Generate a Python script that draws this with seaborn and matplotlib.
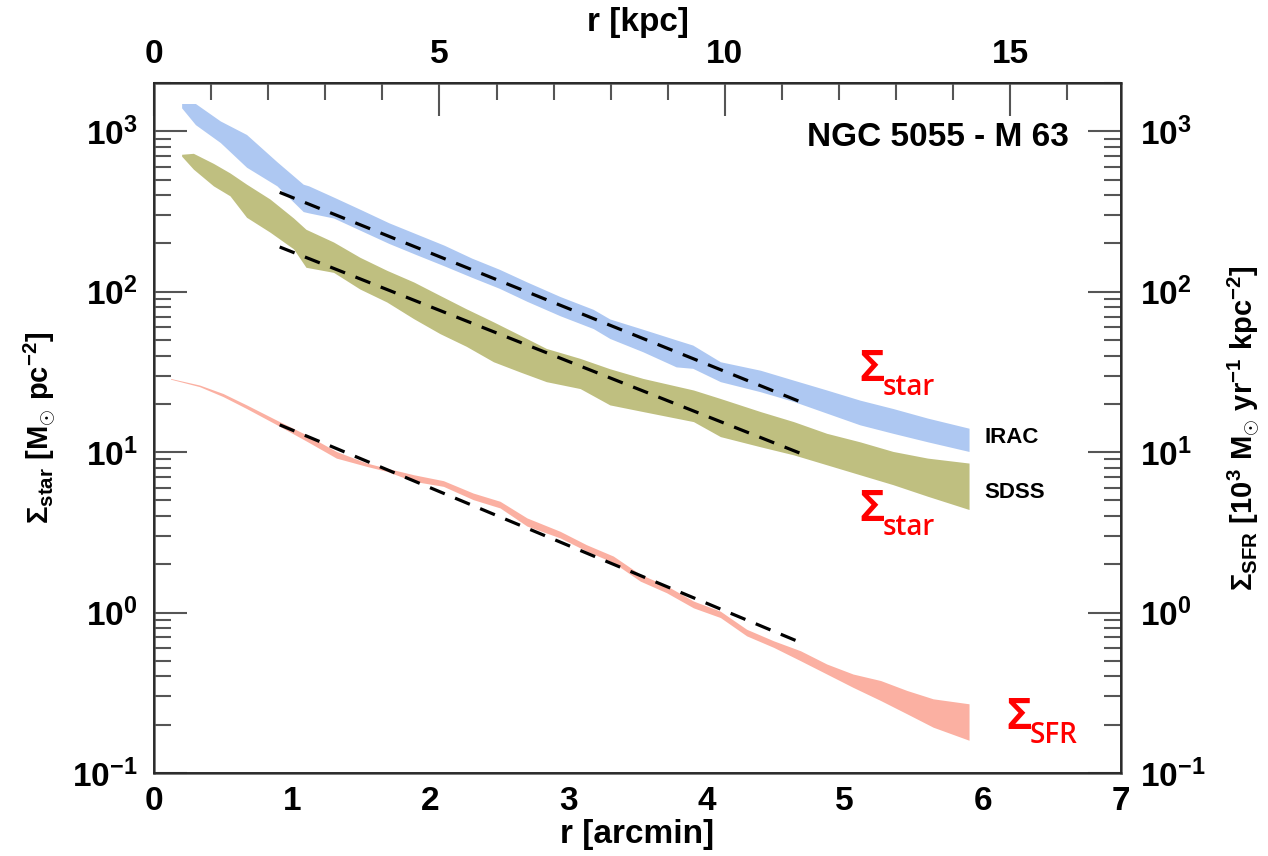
import numpy as np
import matplotlib
matplotlib.use('Agg')
import matplotlib.pyplot as plt
import seaborn as sns
from matplotlib.ticker import MultipleLocator, FixedLocator, LogLocator, FuncFormatter, NullFormatter

# radial profiles of NGC 5055 (M 63)
# r in arcmin, band edges in M_sun pc^-2 (stars) or 10^3 M_sun yr^-1 kpc^-2 (SFR)
irac_r = [0.20, 0.30, 0.48, 0.67, 0.89, 1.08, 1.12, 1.30, 1.50, 1.70, 1.90, 2.10, 2.30,
          2.50, 2.70, 2.94, 3.18, 3.30, 3.54, 3.78, 3.90, 4.10, 4.39, 4.63, 4.87, 5.11, 5.35, 5.60, 5.90]
irac_hi = [1490, 1490, 1160, 955, 646, 468, 457, 389, 324, 269, 229, 195, 162,
           138, 115, 93.3, 77.6, 67.6, 58.3, 50.1, 46.5, 36.6, 32.4, 28.1, 24.4, 21.1, 18.7, 16.3, 14.1]
irac_lo = [1400, 1100, 851, 597, 457, 316, 310, 288, 240, 200, 170, 145, 123,
           105, 87.1, 70.8, 58.9, 51.1, 42.2, 34.0, 33.3, 27.5, 23.8, 20.7, 17.5, 14.8, 13.1, 11.6, 10.1]

sdss_r = [0.20, 0.285, 0.43, 0.55, 0.67, 0.84, 1.01, 1.10, 1.30, 1.49, 1.685, 1.88, 2.07, 2.26, 2.457,
          2.65, 2.84, 3.085, 3.30, 3.54, 3.905, 4.10, 4.39, 4.63, 4.87, 5.11, 5.35, 5.60, 5.90]
sdss_hi = [719, 729, 631, 550, 468, 378, 288, 245, 204, 164, 136, 115, 94.8, 78.3, 64.9,
           53.6, 44.3, 38.4, 33.1, 28.8, 24.4, 21.6, 17.9, 15.5, 13.1, 11.6, 10.1, 9.18, 8.55]
sdss_lo = [700, 581, 457, 396, 291, 235, 185, 142, 132, 104, 86.3, 67.9, 54.8, 45.7, 36.6,
           31.6, 27.5, 24.9, 19.7, 17.9, 15.5, 12.5, 10.8, 9.62, 8.34, 7.23, 6.27, 5.31, 4.39]

sfr_r = [0.12, 0.33, 0.50, 0.67, 0.89, 1.105, 1.32, 1.54, 1.685, 1.88, 2.095, 2.31, 2.505, 2.70, 2.94,
         3.13, 3.325, 3.52, 3.71, 3.905, 4.10, 4.29, 4.485, 4.68, 4.87, 5.06, 5.26, 5.45, 5.64, 5.90]
sfr_hi = [28.8, 26.2, 23.2, 19.7, 15.8, 12.8, 10.1, 8.55, 7.94, 7.23, 6.64, 5.56, 4.94, 3.89, 3.21,
          2.65, 2.25, 1.73, 1.47, 1.18, 1.02, 0.787, 0.667, 0.578, 0.478, 0.414, 0.377, 0.327, 0.290, 0.270]
sfr_lo = [28.5, 25.6, 22.2, 18.7, 14.8, 11.7, 9.18, 8.15, 7.59, 6.58, 6.12, 5.06, 4.49, 3.46, 2.92,
          2.42, 2.05, 1.57, 1.33, 1.07, 0.931, 0.716, 0.607, 0.501, 0.414, 0.342, 0.283, 0.234, 0.193, 0.160]

# exponential fits (dashed)
fit_r = [0.91, 4.71]
irac_fit = [416, 20.1]
sdss_fit = [190, 9.6]
sfr_fit = [14.8, 0.635]

kpc_per_arcmin = 2.42
kpc_ticks = [0, 5, 10, 15]

blue = '#aec8f2'
olive = '#bfbf80'
salmon = '#fbb0a2'
grey = '#555555'

sns.set_theme(style='white')
plt.rcParams['font.family'] = ['Liberation Sans', 'DejaVu Sans']
plt.rcParams['font.weight'] = 'bold'
plt.rcParams['axes.labelweight'] = 'bold'
plt.rcParams['text.color'] = 'black'
plt.rcParams['axes.labelcolor'] = 'black'
plt.rcParams['xtick.labelcolor'] = 'black'
plt.rcParams['ytick.labelcolor'] = 'black'
plt.rcParams['mathtext.fontset'] = 'custom'
plt.rcParams['mathtext.rm'] = 'Liberation Sans'
plt.rcParams['mathtext.bf'] = 'Liberation Sans:bold'
plt.rcParams['mathtext.it'] = 'Liberation Sans:italic'
plt.rcParams['mathtext.sf'] = 'Liberation Sans'

fig = plt.figure(figsize=(12.68, 8.56), dpi=100)
ax = fig.add_axes([154 / 1268, 1 - 773 / 856, (1121 - 154) / 1268, (773 - 83) / 856])

ax.fill_between(irac_r, irac_lo, irac_hi, color=blue, lw=0)
ax.fill_between(sdss_r, sdss_lo, sdss_hi, color=olive, lw=0)
ax.fill_between(sfr_r, sfr_lo, sfr_hi, color=salmon, lw=0)

for fit in [irac_fit, sdss_fit, sfr_fit]:
    sns.lineplot(x=fit_r, y=fit, ax=ax, color='black', lw=2.3, linestyle=(0, (5, 3.5)))

ax.set_yscale('log')
ax.set_xlim(0, 7)
ax.set_ylim(0.1, 2000)

def pow10(v, pos):
    return r'$\mathbf{10}^{\mathrm{%d}}$' % int(round(np.log10(v)))

def style_y(a):
    a.yaxis.set_major_locator(LogLocator(base=10, numticks=10))
    a.yaxis.set_minor_locator(LogLocator(base=10, subs=np.arange(2, 10), numticks=10))
    a.yaxis.set_minor_formatter(NullFormatter())
    a.yaxis.set_major_formatter(FuncFormatter(pow10))

style_y(ax)
ax.xaxis.set_major_locator(MultipleLocator(1))
ax.xaxis.set_minor_locator(MultipleLocator(0.1))
ax.tick_params(which='major', direction='in', length=24, width=1.5, color=grey, labelsize=24, pad=9)
ax.tick_params(which='minor', direction='in', length=12, width=1.5, color=grey)
ax.tick_params(axis='y', pad=12)
for s in ax.spines.values():
    s.set_color(grey)
    s.set_linewidth(1.8)

twin = ax.twinx()
twin.set_yscale('log')
twin.set_ylim(ax.get_ylim())
style_y(twin)
twin.tick_params(which='major', direction='in', length=24, width=1.5, color=grey, labelsize=24, pad=14)
twin.tick_params(which='minor', direction='in', length=12, width=1.5, color=grey)

top = ax.secondary_xaxis('top', functions=(lambda x: x * kpc_per_arcmin, lambda k: k / kpc_per_arcmin))
top.xaxis.set_major_locator(FixedLocator(kpc_ticks))
top.xaxis.set_minor_locator(FixedLocator(np.arange(1, 17)))
top.tick_params(which='major', direction='in', length=24, width=1.5, color=grey, labelsize=24, pad=9)
top.tick_params(which='minor', direction='in', length=12, width=1.5, color=grey)
top.set_xlabel('r [kpc]', fontsize=24, labelpad=6)

ax.set_xlabel('r [arcmin]', fontsize=24, labelpad=2)
ax.set_ylabel(r'$\Sigma_{\mathbf{star}}\ \mathbf{[M_{\odot}\ pc^{-2}]}$', fontsize=21, labelpad=10)
twin.set_ylabel(r'$\Sigma_{\mathbf{SFR}}\ \mathbf{[10^{3}\ M_{\odot}\ yr^{-1}\ kpc^{-2}]}$',
                fontsize=21, rotation=90, labelpad=14)

ax.text(6.62, 807, 'NGC 5055 - M 63', fontsize=24, ha='right', va='baseline')
ax.text(6.01, 11.4, 'IRAC', fontsize=16, ha='left', va='baseline')
ax.text(6.01, 5.18, 'SDSS', fontsize=16, ha='left', va='baseline')

red_font = ['Open Sans', 'DejaVu Sans']

def sigma_label(x, y, sub):
    ax.text(x, y, 'Σ', color='red', fontsize=31, fontweight='bold', family=red_font,
            ha='left', va='baseline')
    ax.annotate(sub, (x, y), xytext=(17, -10), textcoords='offset points', color='red',
                fontsize=20, fontweight='semibold', family=red_font, ha='left', va='baseline')

sigma_label(5.105, 27.6, 'star')
sigma_label(5.105, 3.73, 'star')
sigma_label(6.17, 0.1875, 'SFR')

fig.savefig('out.png', dpi=100)
